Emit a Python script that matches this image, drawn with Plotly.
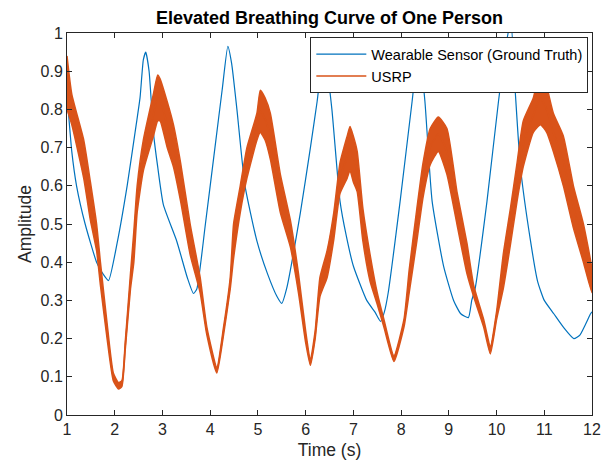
import plotly.graph_objects as go

# Wearable sensor (ground truth) curve
sensor_t = [1.0, 1.1, 1.2, 1.38, 1.62, 1.75, 1.87, 2.05, 2.26, 2.45, 2.53, 2.6, 2.65, 2.72, 2.81, 2.9,
            3.02, 3.3, 3.52, 3.65, 3.72, 3.9, 4.1, 4.25, 4.37, 4.45, 4.56, 4.73, 4.98, 5.2, 5.4, 5.5,
            5.6, 5.89, 6.1, 6.24, 6.36, 6.45, 6.55, 6.72, 6.85, 7.0, 7.28, 7.45, 7.57, 7.65, 7.73, 7.98,
            8.23, 8.34, 8.43, 8.5, 8.65, 8.89, 9.1, 9.25, 9.41, 9.48, 9.55, 9.8, 10.04, 10.2, 10.3,
            10.39, 10.5, 10.71, 10.86, 11.0, 11.2, 11.4, 11.62, 11.75, 11.97, 12.0]
sensor_y = [0.84, 0.69, 0.60, 0.50, 0.40, 0.37, 0.352, 0.45, 0.60, 0.76, 0.83, 0.93, 0.95, 0.90, 0.74, 0.65,
            0.55, 0.455, 0.36, 0.318, 0.33, 0.50, 0.70, 0.85, 0.965, 0.92, 0.80, 0.60, 0.455, 0.37, 0.31, 0.292,
            0.33, 0.53, 0.70, 0.82, 0.93, 0.90, 0.80, 0.56, 0.47, 0.39, 0.30, 0.27, 0.245, 0.27, 0.32, 0.56,
            0.82, 0.93, 0.90, 0.82, 0.56, 0.39, 0.30, 0.265, 0.255, 0.30, 0.33, 0.56, 0.82, 0.97, 1.03,
            0.85, 0.65, 0.457, 0.35, 0.30, 0.265, 0.23, 0.20, 0.21, 0.265, 0.27]

# USRP curve: noisy band read as upper / lower envelope
usrp_t = [1.0, 1.1, 1.35, 1.49, 1.62, 1.7, 1.84, 1.97, 2.08, 2.15, 2.22, 2.33, 2.4, 2.47, 2.6, 2.81,
          2.9, 2.95, 3.1, 3.23, 3.38, 3.58, 3.79, 3.93, 4.14, 4.28, 4.42, 4.49, 4.63, 4.77, 4.98,
          5.05, 5.15, 5.26, 5.47, 5.68, 5.85, 6.0, 6.1, 6.2, 6.3, 6.45, 6.59, 6.72, 6.87, 6.93, 7.0,
          7.08, 7.2, 7.35, 7.5, 7.64, 7.85, 8.06, 8.17, 8.33, 8.46, 8.61, 8.78, 8.96, 9.17,
          9.38, 9.52, 9.73, 9.87, 10.0, 10.14, 10.29, 10.43, 10.56, 10.77, 10.92, 11.05, 11.19,
          11.4, 11.61, 11.82, 12.0]
usrp_hi = [0.94, 0.84, 0.72, 0.61, 0.50, 0.40, 0.24, 0.11, 0.085, 0.09, 0.19, 0.37, 0.48, 0.60, 0.72, 0.84,
           0.89, 0.88, 0.82, 0.76, 0.66, 0.50, 0.36, 0.23, 0.125, 0.23, 0.36, 0.50, 0.60, 0.70, 0.79,
           0.85, 0.83, 0.79, 0.63, 0.51, 0.37, 0.22, 0.145, 0.22, 0.36, 0.43, 0.53, 0.66, 0.73, 0.755, 0.73,
           0.69, 0.54, 0.42, 0.32, 0.25, 0.155, 0.25, 0.38, 0.54, 0.66, 0.75, 0.78, 0.75, 0.585,
           0.45, 0.34, 0.25, 0.18, 0.27, 0.42, 0.54, 0.66, 0.77, 0.83, 0.90, 0.86, 0.79,
           0.73, 0.60, 0.50, 0.38]
usrp_lo = [0.80, 0.76, 0.62, 0.51, 0.43, 0.34, 0.20, 0.09, 0.068, 0.075, 0.17, 0.33, 0.40, 0.53, 0.64, 0.73,
           0.77, 0.77, 0.70, 0.65, 0.56, 0.42, 0.32, 0.21, 0.11, 0.21, 0.33, 0.41, 0.53, 0.62, 0.72,
           0.74, 0.72, 0.67, 0.53, 0.44, 0.32, 0.19, 0.13, 0.20, 0.31, 0.36, 0.46, 0.58, 0.62, 0.64, 0.61,
           0.585, 0.455, 0.35, 0.29, 0.23, 0.14, 0.23, 0.32, 0.455, 0.57, 0.655, 0.69, 0.63, 0.50,
           0.37, 0.31, 0.23, 0.16, 0.25, 0.33, 0.445, 0.56, 0.65, 0.74, 0.76, 0.74, 0.69,
           0.60, 0.49, 0.40, 0.32]
usrp_mid = [(h + l) / 2 for h, l in zip(usrp_hi, usrp_lo)]

BLUE = "#0072BD"
ORANGE = "#D95319"
AX = "#262626"
FONT = "Liberation Sans, Arial, sans-serif"

fig = go.Figure()
fig.add_trace(go.Scatter(x=sensor_t, y=sensor_y, mode="lines", name="Wearable Sensor (Ground Truth)",
                         line=dict(color=BLUE, width=1.2, shape="spline", smoothing=0.5)))
fig.add_trace(go.Scatter(x=usrp_t + usrp_t[::-1], y=usrp_hi + usrp_lo[::-1], mode="lines",
                         fill="toself", fillcolor=ORANGE,
                         line=dict(color=ORANGE, width=1.5, shape="spline", smoothing=0.5),
                         showlegend=False, hoverinfo="skip"))
fig.add_trace(go.Scatter(x=usrp_t, y=usrp_mid, mode="lines", name="USRP",
                         line=dict(color=ORANGE, width=1.5, shape="spline", smoothing=0.5)))

axis_common = dict(showline=True, linecolor=AX, linewidth=1, mirror="ticks", ticks="inside",
                   ticklen=5, tickcolor=AX, tickwidth=1, showgrid=False, zeroline=False,
                   automargin=False, tickfont=dict(family=FONT, size=16, color=AX))

fig.update_layout(
    width=602, height=469,
    margin=dict(l=67, r=10, t=33, b=54),
    paper_bgcolor="white", plot_bgcolor="white",
    title=dict(text="<b>Elevated Breathing Curve of One Person</b>", x=0.5, xref="paper",
               y=1 - 18 / 469, yref="container", yanchor="middle",
               font=dict(family=FONT, size=18, color="black")),
    xaxis=dict(range=[1, 12], dtick=1, tick0=1,
               title=dict(text="Time (s)", font=dict(family=FONT, size=17.5, color=AX), standoff=6),
               **axis_common),
    yaxis=dict(range=[0, 1], dtick=0.1, tick0=0,
               title=dict(text="Amplitude", font=dict(family=FONT, size=17.5, color=AX), standoff=4),
               **axis_common),
    legend=dict(x=0.993, xanchor="right", y=0.989, yanchor="top", bgcolor="white",
                bordercolor=AX, borderwidth=1, font=dict(family=FONT, size=14.5, color="black"),
                itemwidth=50, tracegroupgap=0),
    showlegend=True,
)

fig.write_html("out.html", config={"displayModeBar": False},
               post_script="document.body.style.margin='0px';")
